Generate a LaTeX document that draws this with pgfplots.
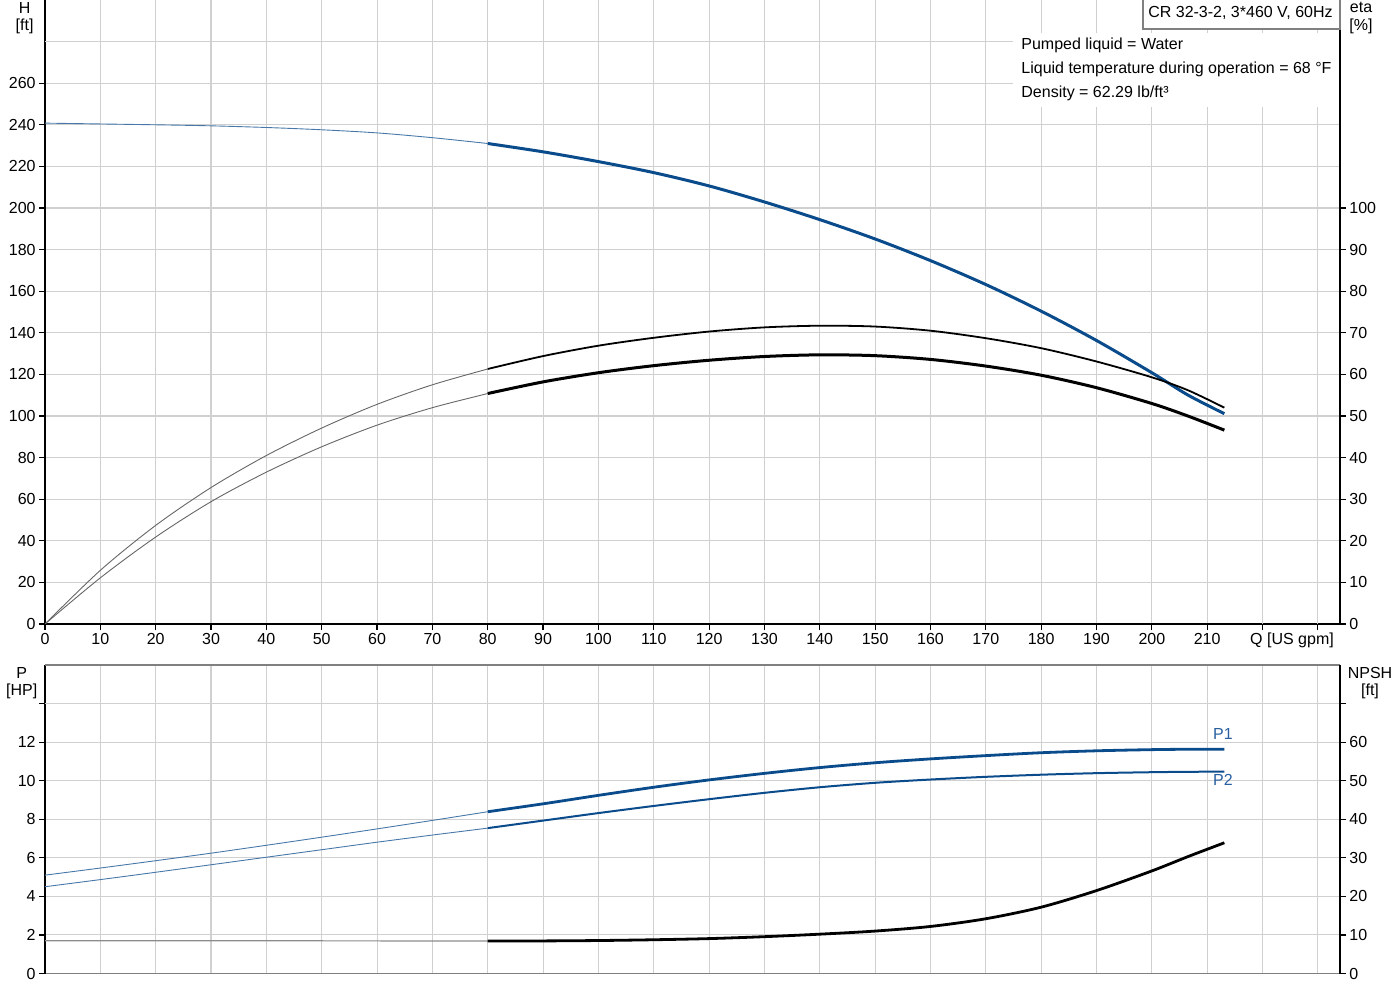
\documentclass[border=0pt]{standalone}
\usepackage{pgfplots}
\pgfplotsset{compat=1.18}
\usepackage{fontspec}
\setmainfont{Liberation Sans}
\definecolor{gblue}{RGB}{10,75,140}
\definecolor{lblue}{RGB}{40,95,160}
\definecolor{gridc}{RGB}{208,208,208}
\begin{document}
\fontsize{8}{9.6}\selectfont
\begin{tikzpicture}
\useasboundingbox (0pt,0pt) rectangle (700pt,500pt);
\pgfplotsset{
 base/.style={scale only axis, width=647.5pt, xmin=0, xmax=234,
   tick align=outside, major tick length=3pt,
   tick style={black, line width=0.6pt},
   axis line style={black, line width=0.9pt, -},
   every tick label/.append style={font=\fontsize{8}{9.6}\selectfont, inner sep=1.5pt},
   /pgf/number format/assume math mode=true,
   grid style={gridc, line width=0.55pt},
 },
}
% ---------------- top: H ----------------
\begin{axis}[base, at={(22.5pt,188pt)}, anchor=south west, height=312pt,
  ymin=0, ymax=300,
  axis x line*=bottom, axis y line*=left,
  xtick={0,10,...,210}, extra x ticks={220,230}, extra x tick labels={},
  extra x tick style={grid=major},
  ytick={0,20,...,260}, extra y ticks={280}, extra y tick labels={},
  extra y tick style={grid=major, major tick length=0pt},
  grid=major]
\addplot[gblue!75, line width=0.45pt, smooth] coordinates {
(0,240.8) (10,240.4) (20,240.0) (30,239.5) (40,238.7) (50,237.6) (60,236.1) (70,233.8) (80,231.0)};
\addplot[gblue, line width=1.5pt, smooth] coordinates {
(80,231.0) (90,227.0) (100,222.3) (110,217.0) (120,210.6) (130,202.9) (140,194.4) (150,185.1)
(160,174.7) (170,163.2) (180,150.4) (190,136.3) (200,120.8) (206.5,110.1) (213.1,101.1)};
\end{axis}
% ---------------- top: eta ----------------
\begin{axis}[base, at={(22.5pt,188pt)}, anchor=south west, height=312pt,
  ymin=0, ymax=150, axis y line*=right, axis x line=none,
  ytick={0,10,...,100}]
\addplot[black!60, line width=0.45pt, smooth] coordinates {
(0,0) (10,12.9) (20,23.7) (30,32.8) (40,40.5) (50,47.1) (60,52.8) (70,57.5) (80,61.3)};
\addplot[black, line width=0.9pt, smooth] coordinates {
(80,61.3) (90,64.4) (100,66.9) (110,68.8) (120,70.3) (130,71.3) (140,71.7) (150,71.5)
(160,70.5) (170,68.7) (180,66.3) (190,63.1) (200,59.3) (206.5,56.2) (213.1,52.0)};
\addplot[black!60, line width=0.45pt, smooth] coordinates {
(0,0) (10,11.1) (20,20.9) (30,29.4) (40,36.5) (50,42.6) (60,47.8) (70,52.0) (80,55.4)};
\addplot[black, line width=1.5pt, smooth] coordinates {
(80,55.4) (90,58.2) (100,60.4) (110,62.1) (120,63.4) (130,64.3) (140,64.7) (150,64.5)
(160,63.6) (170,62.0) (180,59.8) (190,56.8) (200,53.0) (206.5,50.0) (213.1,46.6)};
\end{axis}
% ---------------- bottom: P ----------------
\begin{axis}[base, at={(22.5pt,13.25pt)}, anchor=south west, height=154.25pt,
  ymin=0, ymax=16,
  axis x line*=bottom, axis y line*=left,
  x axis line style={gray, line width=0.6pt},
  xtick={0,10,...,230}, xticklabels={}, xtick style={draw=none},
  ytick={0,2,...,12}, extra y ticks={14}, extra y tick labels={},
  extra y tick style={grid=major},
  grid=major]
\draw[gray, line width=0.6pt] (rel axis cs:0,1) -- (rel axis cs:1,1);
\addplot[gblue!75, line width=0.45pt, smooth] coordinates {
(0,5.10) (10,5.47) (20,5.85) (30,6.24) (40,6.65) (50,7.07) (60,7.50) (70,7.94) (80,8.39)};
\addplot[gblue, line width=1.4pt, smooth] coordinates {
(80,8.39) (90,8.80) (100,9.24) (110,9.66) (120,10.04) (130,10.38) (140,10.68) (150,10.93)
(160,11.13) (170,11.30) (180,11.45) (190,11.55) (200,11.61) (206.5,11.63) (213.1,11.63)};
\addplot[gblue!75, line width=0.45pt, smooth] coordinates {
(0,4.50) (10,4.87) (20,5.25) (30,5.64) (40,6.03) (50,6.42) (60,6.81) (70,7.18) (80,7.54)};
\addplot[gblue, line width=1pt, smooth] coordinates {
(80,7.54) (90,7.93) (100,8.32) (110,8.69) (120,9.04) (130,9.37) (140,9.66) (150,9.89)
(160,10.06) (170,10.20) (180,10.31) (190,10.39) (200,10.44) (206.5,10.46) (213.1,10.47)};
\end{axis}
% ---------------- bottom: NPSH ----------------
\begin{axis}[base, at={(22.5pt,13.25pt)}, anchor=south west, height=154.25pt,
  ymin=0, ymax=80, axis y line*=right, axis x line=none,
  ytick={0,10,...,60}, extra y ticks={70}, extra y tick labels={}]
\addplot[black!45, line width=0.6pt] coordinates {
(0,8.50) (40,8.48) (80,8.43)};
\addplot[black, line width=1.4pt, smooth] coordinates {
(80,8.43) (90,8.45) (100,8.55) (110,8.75) (120,9.05) (130,9.55) (140,10.2) (150,11.0)
(160,12.2) (170,14.2) (180,17.2) (190,21.5) (200,26.6) (206.5,30.3) (213.1,33.9)};
\end{axis}
% ---------------- labels ----------------
\node[anchor=base, inner sep=0] at (12.3pt,493.3pt) {H};
\node[anchor=base, inner sep=0] at (12.3pt,484.8pt) {[ft]};
\node[anchor=base, inner sep=0] at (680.5pt,493.6pt) {eta};
\node[anchor=base, inner sep=0] at (680.5pt,484.8pt) {[\%]};
\node[anchor=base, inner sep=0] at (646pt,177.5pt) {Q [US gpm]};
\node[anchor=base, inner sep=0] at (10.85pt,160.85pt) {P};
\node[anchor=base, inner sep=0] at (10.85pt,152pt) {[HP]};
\node[anchor=base, inner sep=0] at (685pt,160.85pt) {NPSH};
\node[anchor=base, inner sep=0] at (685pt,152pt) {[ft]};
\node[anchor=base, inner sep=0, text=lblue] at (611.5pt,130pt) {P1};
\node[anchor=base, inner sep=0, text=lblue] at (611.5pt,107pt) {P2};
\fill[white] (506.5pt,483.5pt) rectangle (669.5pt,446.5pt);
\filldraw[fill=white, draw=gray, line width=0.6pt] (571.5pt,500.5pt) rectangle (670pt,485.5pt);
\node[anchor=base, inner sep=0] at (620.25pt,491.35pt) {CR 32-3-2, 3*460 V, 60Hz};
\node[anchor=base west, inner sep=0] at (510.5pt,475pt) {Pumped liquid = Water};
\node[anchor=base west, inner sep=0] at (510.5pt,463pt) {Liquid temperature during operation = 68 °F};
\node[anchor=base west, inner sep=0] at (510.5pt,451.25pt) {Density = 62.29 lb/ft³};
\end{tikzpicture}
\end{document}
